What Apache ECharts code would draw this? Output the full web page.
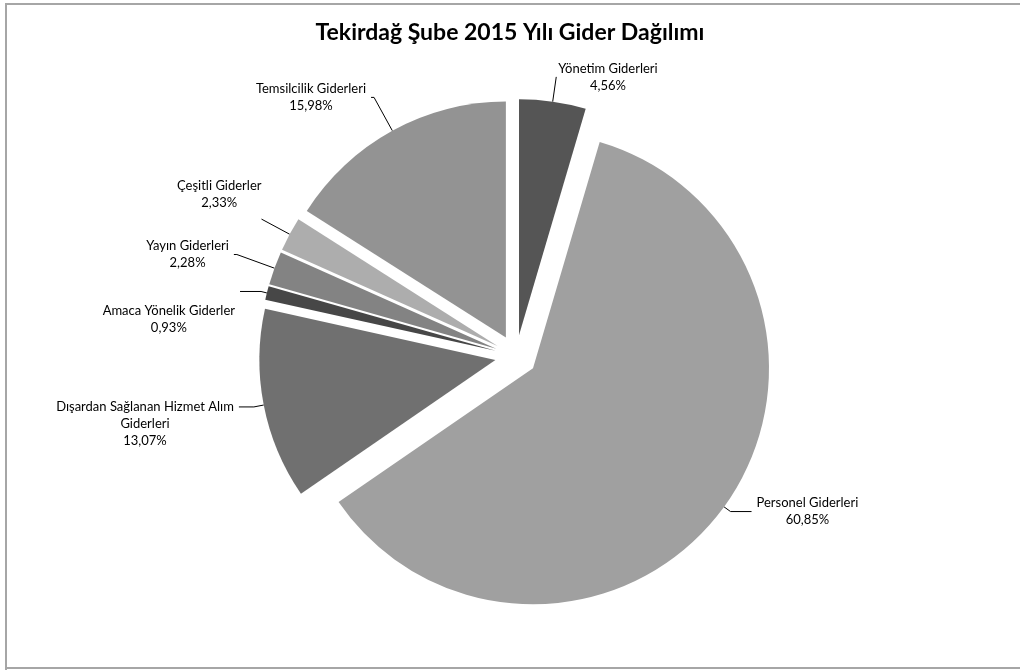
<!DOCTYPE html>
<html>
<head>
<meta charset="utf-8">
<script src="https://cdn.jsdelivr.net/npm/echarts@6/dist/echarts.min.js"></script>
<style>
html,body{margin:0;padding:0;background:#fff;}
#c{width:1020px;height:670px;}
</style>
</head>
<body>
<div id="c"></div>
<script>
const titleText = 'Tekirdağ Şube 2015 Yılı Gider Dağılımı';
const categories = [
  'Yönetim Giderleri',
  'Personel Giderleri',
  'Dışardan Sağlanan Hizmet Alım\nGiderleri',
  'Amaca Yönelik Giderler',
  'Yayın Giderleri',
  'Çeşitli Giderler',
  'Temsilcilik Giderleri'
];
const values = [4.56, 60.85, 13.07, 0.93, 2.28, 2.33, 15.98];
const colors = ['#555555', '#a0a0a0', '#707070', '#474747', '#838383', '#adadad', '#939393'];
// leader-line styling per slice (first segment, second segment, gap, label padding)
const leaderLen1 = [25, 8, 10, 6, 40, 32, 38];
const leaderLen2 = [0, 21, 15, 21, 3, 0, 3];
const leaderGap = [2, 5, 5, 5, 5, 0, 5];
const labelPads = [
  [0, 0, 0, 0],
  [0, 0, 0, 0],
  [34, 0, 0, 0],
  [56, 0, 0, 0],
  [0, 0, 0, 0],
  [0, 0, 50, 0],
  [0, 0, 0, 0]
];

const chart = echarts.init(document.getElementById('c'), null, {renderer: 'canvas'});
const data = categories.map((n, i) => ({
  name: n, value: values[i], selected: true,
  itemStyle: {color: colors[i]},
  label: {distanceToLabelLine: leaderGap[i], padding: labelPads[i]},
  labelLine: {length: leaderLen1[i], length2: leaderLen2[i]}
}));
chart.setOption({
  animation: false,
  backgroundColor: '#fff',
  title: {
    text: titleText, left: 'center', top: 16,
    textStyle: {fontFamily: 'Lato', fontWeight: 'bold', fontSize: 23, color: '#000'}
  },
  graphic: [{
    type: 'polyline', silent: true,
    shape: {points: [[6, 670], [6, 4], [1020, 4]]},
    style: {stroke: '#a6a6a6', lineWidth: 2, fill: null}
  }, {
    type: 'line', silent: true,
    shape: {x1: 5, y1: 668, x2: 1020, y2: 668},
    style: {stroke: '#a6a6a6', lineWidth: 2}
  }],
  series: [{
    type: 'pie',
    center: [516, 356],
    radius: [0, 236],
    startAngle: 90,
    clockwise: true,
    selectedMode: 'multiple',
    selectedOffset: 21,
    avoidLabelOverlap: false,
    labelLayout: {hideOverlap: false},
    data: data,
    itemStyle: {borderWidth: 0},
    emphasis: {disabled: true},
    label: {
      show: true, position: 'outside',
      fontFamily: 'Lato', fontSize: 13, color: '#000', lineHeight: 17,
      formatter: p => p.name.split('\n').map(s => '{t|' + s + '}').join('\n') + '\n{t|' + p.value.toFixed(2).replace('.', ',') + '%}',
      rich: {t: {align: 'center', fontFamily: 'Lato', fontSize: 13, color: '#000', lineHeight: 17}}
    },
    labelLine: {show: true, lineStyle: {color: '#000', width: 1}}
  }]
});
</script>
</body>
</html>
